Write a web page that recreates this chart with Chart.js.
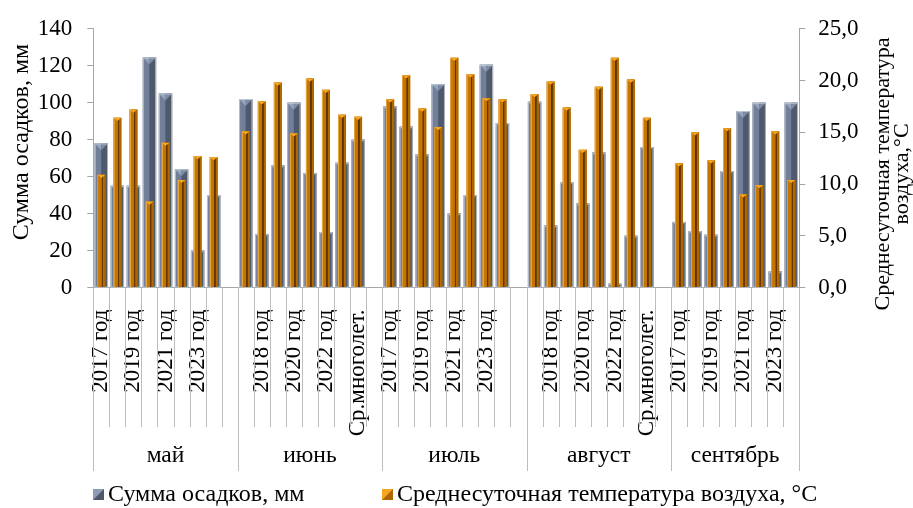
<!DOCTYPE html>
<html>
<head>
<meta charset="utf-8">
<script src="https://cdn.jsdelivr.net/npm/chart.js@4.4.1/dist/chart.umd.min.js"></script>
<style>
  html, body { margin: 0; padding: 0; background: #ffffff; }
  canvas { display: block; }
</style>
</head>
<body>
<canvas id="chart" width="913" height="508"></canvas>
<script>
// Месяцы и периоды наблюдений
const months = ['май', 'июнь', 'июль', 'август', 'сентябрь'];
const periods = ['2017 год', '2018 год', '2019 год', '2020 год', '2021 год', '2022 год', '2023 год', 'Ср.многолет.'];

// Сумма осадков, мм
const precipMay = [78, 55, 55, 124.5, 105, 64, 20, 50];
const precipJun = [102, 29, 66, 100, 62, 30, 67.5, 80];
const precipJul = [98, 87, 72, 110, 40, 50, 120.5, 89];
const precipAug = [100.5, 33.5, 57, 45.5, 73, 2, 28, 76];
const precipSep = [35.5, 30.5, 28.5, 63, 95.5, 100, 8.7, 100];

// Среднесуточная температура воздуха, °C
const tempMay = [10.9, 16.4, 17.2, 8.3, 14.0, 10.4, 12.7, 12.6];
const tempJun = [15.1, 18.0, 19.8, 14.9, 20.2, 19.1, 16.7, 16.5];
const tempJul = [18.2, 20.5, 17.3, 15.5, 22.2, 20.6, 18.3, 18.2];
const tempAug = [18.7, 19.9, 17.4, 13.3, 19.4, 22.2, 20.1, 16.4];
const tempSep = [12.0, 15.0, 12.3, 15.4, 9.0, 9.9, 15.1, 10.4];

// Шкалы осей
const precipAxis = { min: 0, max: 140, step: 20 };
const tempAxis = { min: 0, max: 25, step: 5 };

const seriesNames = ['Сумма осадков, мм', 'Среднесуточная температура воздуха, °C'];
const leftTitle = 'Сумма осадков, мм';
const rightTitleLines = ['Среднесуточная температура', 'воздуха,°C'];

const FONT = '"Liberation Serif", "Times New Roman", serif';
const GREY = '#a6a6a6';
const LIGHT_GREY = '#bdbdbd';

// Плоский ряд категорий: месяцы подряд, между месяцами пустая позиция
const precipByMonth = [precipMay, precipJun, precipJul, precipAug, precipSep];
const tempByMonth = [tempMay, tempJun, tempJul, tempAug, tempSep];
const labels = [], precip = [], temp = [], groups = [];
months.forEach((m, mi) => {
  const start = labels.length;
  periods.forEach((p, pi) => {
    labels.push(p);
    precip.push(precipByMonth[mi][pi]);
    temp.push(tempByMonth[mi][pi]);
  });
  if (mi < months.length - 1) { labels.push(''); precip.push(null); temp.push(null); }
  groups.push({ name: m, start: start, end: labels.length - 1 });
});

// Объёмная отрисовка столбцов поверх элементов Chart.js
function drawBlueBar(ctx, x0, x1, top, bot) {
  const xc = (x0 + x1) / 2, h = bot - top;
  if (h <= 0) return;
  const bev = Math.min((x1 - x0) * 0.52, h);
  ctx.fillStyle = '#717f98';
  ctx.fillRect(x0, top, xc - x0, h);
  ctx.fillStyle = '#4e596b';
  ctx.fillRect(xc, top, x1 - xc, h);
  ctx.fillStyle = '#97a5bd';
  ctx.beginPath(); ctx.moveTo(x0, top); ctx.lineTo(xc, top); ctx.lineTo(xc, top + bev); ctx.closePath(); ctx.fill();
  ctx.fillStyle = '#7e8ca6';
  ctx.beginPath(); ctx.moveTo(xc, top); ctx.lineTo(x1, top); ctx.lineTo(xc, top + bev); ctx.closePath(); ctx.fill();
  ctx.strokeStyle = 'rgba(205,213,226,0.75)';
  ctx.lineWidth = 1;
  ctx.strokeRect(x0 + 0.5, top + 0.5, x1 - x0 - 1, h - 0.5);
}

function drawOrangeBar(ctx, x0, x1, top, bot) {
  const w = x1 - x0, h = bot - top;
  if (h <= 0) return;
  const g = ctx.createLinearGradient(x0, 0, x1, 0);
  g.addColorStop(0, '#e7a243');
  g.addColorStop(0.14, '#e7a243');
  g.addColorStop(0.15, '#c97700');
  g.addColorStop(0.52, '#c27200');
  g.addColorStop(0.55, '#5a3300');
  g.addColorStop(0.74, '#6a3d00');
  g.addColorStop(0.77, '#b46b00');
  g.addColorStop(1, '#a86200');
  ctx.fillStyle = g;
  ctx.fillRect(x0, top, w, h);
  const bev = Math.min(w * 0.4, h);
  const xc = (x0 + x1) / 2;
  ctx.fillStyle = '#f6a623';
  ctx.beginPath(); ctx.moveTo(x0, top); ctx.lineTo(x1, top); ctx.lineTo(xc, top + bev); ctx.closePath(); ctx.fill();
}

const barShading = {
  id: 'barShading',
  afterDatasetDraw(chart, args) {
    const ctx = chart.ctx;
    const meta = args.meta;
    const values = chart.data.datasets[meta.index].data;
    ctx.save();
    meta.data.forEach((el, i) => {
      if (values[i] == null) return;
      const p = el.getProps(['x', 'y', 'base', 'width'], true);
      const x0 = p.x - p.width / 2, x1 = p.x + p.width / 2;
      if (meta.index === 0) drawBlueBar(ctx, x0, x1, p.y, p.base);
      else drawOrangeBar(ctx, x0, x1, p.y, p.base);
    });
    ctx.restore();
  }
};

// Двухуровневая подпись оси категорий, заголовки осей и легенда
const decorations = {
  id: 'decorations',
  afterDraw(chart) {
    const ctx = chart.ctx;
    const xs = chart.scales.x;
    const area = chart.chartArea;
    const half = (xs.getPixelForValue(1) - xs.getPixelForValue(0)) / 2;
    const axisY = area.bottom;
    ctx.save();

    // короткие разделители категорий
    ctx.strokeStyle = LIGHT_GREY;
    ctx.lineWidth = 1;
    for (let i = 0; i <= labels.length; i++) {
      const bx = Math.round(xs.getPixelForValue(Math.min(i, labels.length - 1)) + (i === labels.length ? half : -half)) + 0.5;
      ctx.beginPath(); ctx.moveTo(bx, axisY); ctx.lineTo(bx, 427); ctx.stroke();
    }
    // длинные разделители месяцев и названия месяцев
    ctx.fillStyle = '#000';
    ctx.font = '23.5px ' + FONT;
    ctx.textAlign = 'center';
    ctx.textBaseline = 'middle';
    groups.forEach((g) => {
      const left = xs.getPixelForValue(g.start) - half;
      const right = xs.getPixelForValue(g.end) + half;
      [left, right].forEach(v => {
        const bx = Math.round(v) + 0.5;
        ctx.strokeStyle = LIGHT_GREY;
        ctx.beginPath(); ctx.moveTo(bx, axisY); ctx.lineTo(bx, 471); ctx.stroke();
      });
      ctx.fillText(g.name, (left + right) / 2, 456);
    });

    // заголовок левой оси
    ctx.font = '24px ' + FONT;
    ctx.textBaseline = 'alphabetic';
    ctx.save();
    ctx.translate(28, 142);
    ctx.rotate(-Math.PI / 2);
    ctx.fillText(leftTitle, 0, 0);
    ctx.restore();

    // заголовок правой оси (две строки)
    ctx.font = '22px ' + FONT;
    [889, 908].forEach((bx, li) => {
      ctx.save();
      ctx.translate(bx, 174);
      ctx.rotate(-Math.PI / 2);
      ctx.fillText(rightTitleLines[li], 0, 0);
      ctx.restore();
    });

    // легенда
    ctx.font = '24px ' + FONT;
    ctx.textAlign = 'left';
    ctx.textBaseline = 'middle';
    const ly = 495;
    const items = [
      { x: 93, name: seriesNames[0], light: '#8e9cb6', dark: '#4e596b' },
      { x: 382, name: seriesNames[1], light: '#f6a623', dark: '#b06600' }
    ];
    items.forEach(it => {
      const s = 11, sx = it.x, sy = ly - 6;
      ctx.fillStyle = it.dark;
      ctx.fillRect(sx, sy, s, s);
      ctx.fillStyle = it.light;
      ctx.beginPath(); ctx.moveTo(sx, sy); ctx.lineTo(sx + s, sy); ctx.lineTo(sx, sy + s); ctx.closePath(); ctx.fill();
      ctx.fillStyle = '#000';
      ctx.fillText(it.name, sx + s + 4, ly);
    });
    ctx.restore();
  }
};

new Chart(document.getElementById('chart'), {
  type: 'bar',
  data: {
    labels: labels,
    datasets: [
      {
        label: seriesNames[0],
        data: precip,
        yAxisID: 'y',
        backgroundColor: '#5f6c82',
        borderWidth: 0,
        grouped: false,
        categoryPercentage: 1,
        barPercentage: 0.83,
        order: 1
      },
      {
        label: seriesNames[1],
        data: temp,
        yAxisID: 'y1',
        backgroundColor: '#c27200',
        borderWidth: 0,
        grouped: false,
        categoryPercentage: 1,
        barPercentage: 0.5,
        order: 0
      }
    ]
  },
  options: {
    responsive: false,
    animation: false,
    devicePixelRatio: 1,
    layout: { padding: { top: 23, left: 0, right: 0, bottom: 0 } },
    plugins: { legend: { display: false }, tooltip: { enabled: false } },
    scales: {
      x: {
        grid: { display: false },
        border: { display: true, color: GREY },
        ticks: {
          autoSkip: false,
          minRotation: 90,
          maxRotation: 90,
          padding: 14,
          color: '#000',
          font: { family: FONT, size: 23 },
          callback: (v, i) => (i % 2 === 0 ? labels[i] : '')
        },
        afterFit: s => { s.height = 220.5; }
      },
      y: {
        position: 'left',
        min: precipAxis.min,
        max: precipAxis.max,
        grid: { drawOnChartArea: false, drawTicks: true, tickLength: 6, color: GREY },
        border: { display: true, color: GREY },
        ticks: { stepSize: precipAxis.step, padding: 15, color: '#000', font: { family: FONT, size: 23 } },
        afterFit: s => { s.width = 93.3; }
      },
      y1: {
        position: 'right',
        min: tempAxis.min,
        max: tempAxis.max,
        grid: { drawOnChartArea: false, drawTicks: true, tickLength: 6, color: GREY },
        border: { display: true, color: GREY },
        ticks: {
          stepSize: tempAxis.step,
          padding: 13,
          color: '#000',
          font: { family: FONT, size: 23 },
          callback: v => v.toFixed(1).replace('.', ',')
        },
        afterFit: s => { s.width = 113.7; }
      }
    }
  },
  plugins: [barShading, decorations]
});
</script>
</body>
</html>
